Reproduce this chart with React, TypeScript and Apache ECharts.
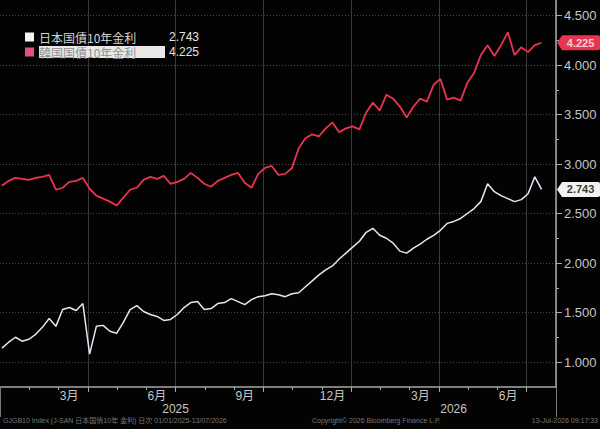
import React, { useEffect, useRef } from 'react';
import * as echarts from 'echarts';

// ---- data ----
const firstObservation = [2025, 0, 3]; // 2025-01-03, weekly observations
const stepDays = 7;

const japanValues = [
  1.14, 1.20, 1.25, 1.21, 1.23, 1.28, 1.35, 1.44, 1.36, 1.53,
  1.55, 1.52, 1.59, 1.08, 1.36, 1.37, 1.31, 1.29, 1.40, 1.53,
  1.57, 1.51, 1.48, 1.46, 1.42, 1.43, 1.48, 1.55, 1.60, 1.61,
  1.53, 1.54, 1.59, 1.60, 1.64, 1.61, 1.58, 1.63, 1.66, 1.67,
  1.69, 1.68, 1.66, 1.69, 1.70, 1.76, 1.82, 1.88, 1.93, 1.97,
  2.04, 2.10, 2.16, 2.22, 2.31, 2.35, 2.28, 2.25, 2.20, 2.12,
  2.10, 2.15, 2.19, 2.24, 2.28, 2.33, 2.40, 2.42, 2.45, 2.50,
  2.55, 2.62, 2.80, 2.72, 2.68, 2.65, 2.62, 2.64, 2.70, 2.87,
  2.743,
];

const koreaValues = [
  2.78, 2.83, 2.86, 2.85, 2.84, 2.86, 2.87, 2.89, 2.74, 2.76,
  2.82, 2.83, 2.86, 2.75, 2.68, 2.65, 2.62, 2.58, 2.66, 2.74,
  2.76, 2.84, 2.87, 2.85, 2.88, 2.80, 2.82, 2.85, 2.91, 2.86,
  2.80, 2.77, 2.83, 2.86, 2.89, 2.91, 2.81, 2.76, 2.90, 2.96,
  2.98, 2.89, 2.90, 2.96, 3.16, 3.26, 3.30, 3.28, 3.36, 3.42,
  3.32, 3.36, 3.38, 3.35, 3.52, 3.62, 3.54, 3.70, 3.66, 3.58,
  3.47, 3.58, 3.66, 3.63, 3.80, 3.86, 3.65, 3.67, 3.64, 3.82,
  3.92, 4.10, 4.20, 4.09, 4.20, 4.33, 4.10, 4.18, 4.13, 4.20,
  4.225,
];

const monthCategories = [
  '2025-01', '2025-02', '2025-03', '2025-04', '2025-05', '2025-06',
  '2025-07', '2025-08', '2025-09', '2025-10', '2025-11', '2025-12',
  '2026-01', '2026-02', '2026-03', '2026-04', '2026-05', '2026-06',
  '2026-07',
];
const labelledMonths = [3, 6, 9, 12];
const yearLabels = [
  { label: '2025', centerMonth: 6 },
  { label: '2026', centerMonth: 15.5 },
];
const yearStartIndex = 12;

const seriesNames = ['日本国債10年金利', '韓国国債10年金利'];

const footLeft = 'GJGB10 Index (J-SAN 日本国債10年 金利) 日次 01/01/2025-13/07/2026';
const footCenter = 'Copyright© 2026 Bloomberg Finance L.P.';
const footRight = '13-Jul-2026 09:17:33';

// ---- styles ----
const axisGray = '#a9a9a9';
const textGray = '#c6c6c6';
const redLine = '#e8344e';
const whiteLine = '#e0e9f6';
const tagPath = 'path://M0,7.5 L5,0 L41,0 Q43,0 43,2 L43,13 Q43,15 41,15 L5,15 Z';

export default function App() {
  const ref = useRef<HTMLDivElement>(null);

  useEffect(() => {
    document.body.style.margin = '0';
    document.body.style.background = '#000';
    if (!ref.current) return;
    const chart = echarts.init(ref.current, undefined, { renderer: 'svg' });

    const [y0, m0, d0] = firstObservation;
    const times = japanValues.map((_, k) => new Date(y0, m0, d0 + stepDays * k).getTime());
    const japanData = japanValues.map((v, k) => [times[k], v]);
    const koreaData = koreaValues.map((v, k) => [times[k], v]);
    const lastT = times[times.length - 1];
    const jpLast = japanValues[japanValues.length - 1];
    const krLast = koreaValues[koreaValues.length - 1];

    const quarterFn = (i: number) => i > 0 && i % 3 === 0;
    const monthFmt = (v: string) => {
      const m = parseInt(v.slice(5), 10);
      return labelledMonths.includes(m) ? `${m}月` : '';
    };
    const yearFmt = (v: number) => {
      const f = yearLabels.find((y) => Math.abs(y.centerMonth - v) < 1e-6);
      return f ? f.label : '';
    };

    const tag = (value: number, fill: string, textColor: string) => ({
      symbol: tagPath,
      symbolSize: [43, 15],
      symbolOffset: [37, 0],
      silent: true,
      itemStyle: { color: fill },
      label: {
        show: true,
        position: 'inside',
        formatter: () => value.toFixed(3),
        color: textColor,
        fontSize: 11,
        fontWeight: 'bold',
        fontFamily: 'Liberation Sans',
        offset: [2, 0],
      },
      data: [{ coord: [lastT, value], value }],
    });

    const option: any = {
      backgroundColor: '#030303',
      animation: false,
      textStyle: { fontFamily: '"Liberation Sans", "Noto Sans CJK JP"' },
      grid: [
        { left: 0, top: -34, width: 556, height: 396, outerBoundsMode: 'none', containLabel: false },
        { left: 0, top: 0, width: 556, height: 387, outerBoundsMode: 'none', containLabel: false },
      ],
      legend: {
        left: 20,
        top: 26,
        orient: 'vertical',
        icon: 'rect',
        itemWidth: 9,
        itemHeight: 9,
        itemGap: 3,
        selectedMode: false,
        data: [
          { name: seriesNames[0], itemStyle: { color: '#f4f4f4' } },
          { name: seriesNames[1], itemStyle: { color: '#e4507c' } },
        ],
        formatter: (name: string) =>
          name === seriesNames[0]
            ? `{n|${name}}{v|${jpLast.toFixed(3)}}`
            : `{nh|${name}}{v|${krLast.toFixed(3)}}`,
        textStyle: {
          rich: {
            n: { fontSize: 12, lineHeight: 12, color: '#d4d4d4', width: 126, fontFamily: '"Noto Sans CJK JP"' },
            nh: {
              fontSize: 12, lineHeight: 12, color: '#8f8f8f', width: 126,
              backgroundColor: '#e8e8e8', fontFamily: '"Noto Sans CJK JP"',
            },
            v: { fontSize: 12, lineHeight: 12, color: '#e4e4e4', padding: [0, 0, 0, 4], fontFamily: 'Liberation Sans' },
          },
        },
      },
      xAxis: [
        {
          type: 'time', gridIndex: 0, show: false,
          min: new Date(2025, 0, 1).getTime(), max: new Date(2026, 7, 1).getTime(),
        },
        {
          type: 'category', gridIndex: 1, position: 'bottom', data: monthCategories,
          axisLine: { onZero: false, lineStyle: { color: axisGray, width: 1.5 } },
          axisTick: { show: true, interval: 0, length: 3, lineStyle: { color: axisGray } },
          axisLabel: { interval: 0, formatter: monthFmt, color: textGray, fontSize: 12, margin: 3, padding: [0, 8, 0, 0] },
          splitLine: { show: false },
        },
        {
          type: 'category', gridIndex: 1, position: 'bottom', data: monthCategories,
          axisLine: { show: false, onZero: false },
          axisTick: { show: true, interval: quarterFn, length: 5, lineStyle: { color: axisGray } },
          axisLabel: { show: false },
          splitLine: { show: true, interval: quarterFn, lineStyle: { color: '#3a3a3a', width: 1 } },
        },
        {
          type: 'category', gridIndex: 1, position: 'bottom', data: monthCategories,
          axisLine: { show: false, onZero: false },
          axisTick: { show: true, interval: (i: number) => i === yearStartIndex, length: 30, lineStyle: { color: '#777' } },
          axisLabel: { show: false },
          splitLine: { show: false },
        },
        {
          type: 'value', gridIndex: 1, position: 'bottom', min: 0, max: monthCategories.length, interval: 0.5,
          axisLine: { show: false, onZero: false },
          axisTick: { show: false },
          splitLine: { show: false },
          axisLabel: { formatter: yearFmt, color: textGray, fontSize: 12, margin: 16 },
        },
      ],
      yAxis: [
        {
          type: 'value', gridIndex: 0, position: 'right', min: 1, max: 5, interval: 0.5,
          axisLine: { show: false, onZero: false },
          axisTick: { show: true, length: 6, lineStyle: { color: axisGray } },
          minorTick: { show: true, splitNumber: 2, length: 3, lineStyle: { color: axisGray } },
          splitLine: { show: true, lineStyle: { color: '#4a4a4a', type: [1, 2] } },
          axisLabel: {
            formatter: (v: number) => (v <= 4.5 ? v.toFixed(3) : ''),
            color: textGray, fontSize: 13, margin: 8,
          },
        },
        {
          type: 'value', gridIndex: 1, position: 'right', min: 0.75, max: 4.66,
          axisLine: { show: true, onZero: false, lineStyle: { color: axisGray, width: 1.5 } },
          axisTick: { show: false },
          axisLabel: { show: false },
          splitLine: { show: false },
        },
      ],
      series: [
        {
          name: seriesNames[1], type: 'line', xAxisIndex: 0, yAxisIndex: 0,
          data: koreaData, symbol: 'none', clip: false,
          lineStyle: { color: redLine, width: 1.8 }, itemStyle: { color: redLine },
          markPoint: tag(krLast, redLine, '#f6d0d6'),
        },
        {
          name: seriesNames[0], type: 'line', xAxisIndex: 0, yAxisIndex: 0,
          data: japanData, symbol: 'none', clip: false,
          lineStyle: { color: whiteLine, width: 1.5 }, itemStyle: { color: whiteLine },
          markPoint: tag(jpLast, '#f2f2f2', '#3a3a3a'),
        },
      ],
      graphic: [
        { type: 'text', left: 3, top: 417, style: { text: footLeft, fill: '#777', font: '7px "Liberation Sans", "Noto Sans CJK JP"' } },
        { type: 'text', left: 312, top: 417, style: { text: footCenter, fill: '#777', font: '7px "Liberation Sans"' } },
        { type: 'text', right: 2, top: 417, style: { text: footRight, fill: '#777', font: '7px "Liberation Sans"' } },
      ],
    };

    chart.setOption(option);
    return () => chart.dispose();
  }, []);

  return <div ref={ref} style={{ width: 600, height: 429 }} />;
}
